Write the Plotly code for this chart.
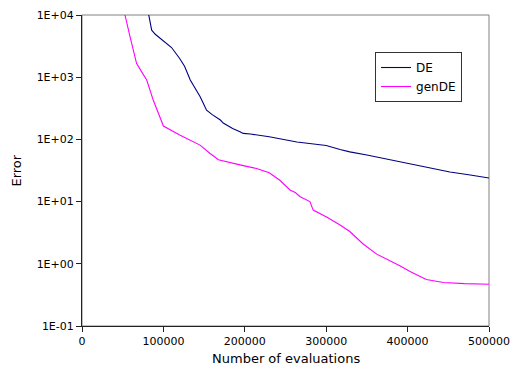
import plotly.graph_objects as go

de_x = [75000, 81500, 85600, 90000, 96000, 110000, 120000, 126000, 133000, 140000,
        145000, 149000, 153000, 160000, 170000, 173500, 185000, 194000, 198000, 207000,
        230000, 264000, 300000, 317000, 329000, 350000, 382000, 400000, 427000, 452000,
        475000, 500000]
de_y = [30000, 10000, 5700, 4900, 4200, 3000, 2000, 1500, 900, 650,
        490, 380, 295, 250, 205, 183, 150, 133, 125, 122,
        110, 91, 80, 69, 63, 56, 46, 42, 35, 30,
        27, 24]

gen_x = [48000, 52800, 59000, 67000, 72000, 79500, 87600, 93800, 100000, 120000,
         145000, 157000, 167600, 194000, 214500, 230000, 243000, 255500, 262000, 268000,
         280000, 284000, 301000, 317000, 329000, 345000, 362000, 391000, 403000, 423000,
         444000, 470000, 500000]
gen_y = [30000, 10000, 4500, 1670, 1300, 900, 425, 263, 164, 118,
         81, 60, 47, 39, 34, 29, 22, 15.4, 14, 12,
         10, 7.3, 5.6, 4.2, 3.3, 2.1, 1.43, 0.92, 0.75, 0.56,
         0.5, 0.48, 0.47]

y_tickvals = [0.1, 1, 10, 100, 1000, 10000]
y_ticktext = ["1E-01", "1E+00", "1E+01", "1E+02", "1E+03", "1E+04"]
x_tickvals = [0, 100000, 200000, 300000, 400000, 500000]
x_ticktext = ["0", "100000", "200000", "300000", "400000", "500000"]

font = "DejaVu Sans, Arial, sans-serif"

fig = go.Figure()
fig.add_trace(go.Scatter(x=de_x, y=de_y, mode="lines", name="DE",
                         line=dict(color="#000080", width=1.1)))
fig.add_trace(go.Scatter(x=gen_x, y=gen_y, mode="lines", name="genDE",
                         line=dict(color="#FF00FF", width=1.1)))

fig.update_layout(
    width=512, height=376,
    margin=dict(l=82, r=23, t=15, b=50),
    paper_bgcolor="white", plot_bgcolor="white",
    font=dict(family=font, size=11, color="black"),
    showlegend=True,
    legend=dict(x=0.72, y=0.881, xanchor="left", yanchor="top",
                bgcolor="white", bordercolor="#333333", borderwidth=1,
                font=dict(family=font, size=12), tracegroupgap=0,
                itemwidth=30),
    shapes=[dict(type="rect", xref="paper", yref="paper", x0=0, y0=0, x1=1, y1=1,
                 line=dict(color="#808080", width=1), layer="below")],
    annotations=[
        dict(text="Error", xref="paper", yref="paper", x=-0.162, y=0.5,
             textangle=-90, showarrow=False, font=dict(family=font, size=13),
             xanchor="center", yanchor="middle"),
        dict(text="Number of evaluations", xref="paper", yref="paper", x=0.5, y=-0.106,
             showarrow=False, font=dict(family=font, size=13),
             xanchor="center", yanchor="middle"),
    ],
)
fig.update_xaxes(range=[0, 500000], tickvals=x_tickvals, ticktext=x_ticktext,
                 showgrid=False, zeroline=False, showline=True, linecolor="#222222",
                 linewidth=1, ticks="outside", ticklen=5, tickcolor="#222222",
                 automargin=False)
fig.update_yaxes(type="log", range=[-1, 4], tickvals=y_tickvals, ticktext=y_ticktext,
                 showgrid=False, zeroline=False, showline=True, linecolor="#222222",
                 linewidth=1, ticks="outside", ticklen=5, tickcolor="#222222",
                 automargin=False)

fig.write_html("out.html", config={"displayModeBar": False},
               post_script="document.body.style.margin='0';document.body.style.overflow='hidden';")
